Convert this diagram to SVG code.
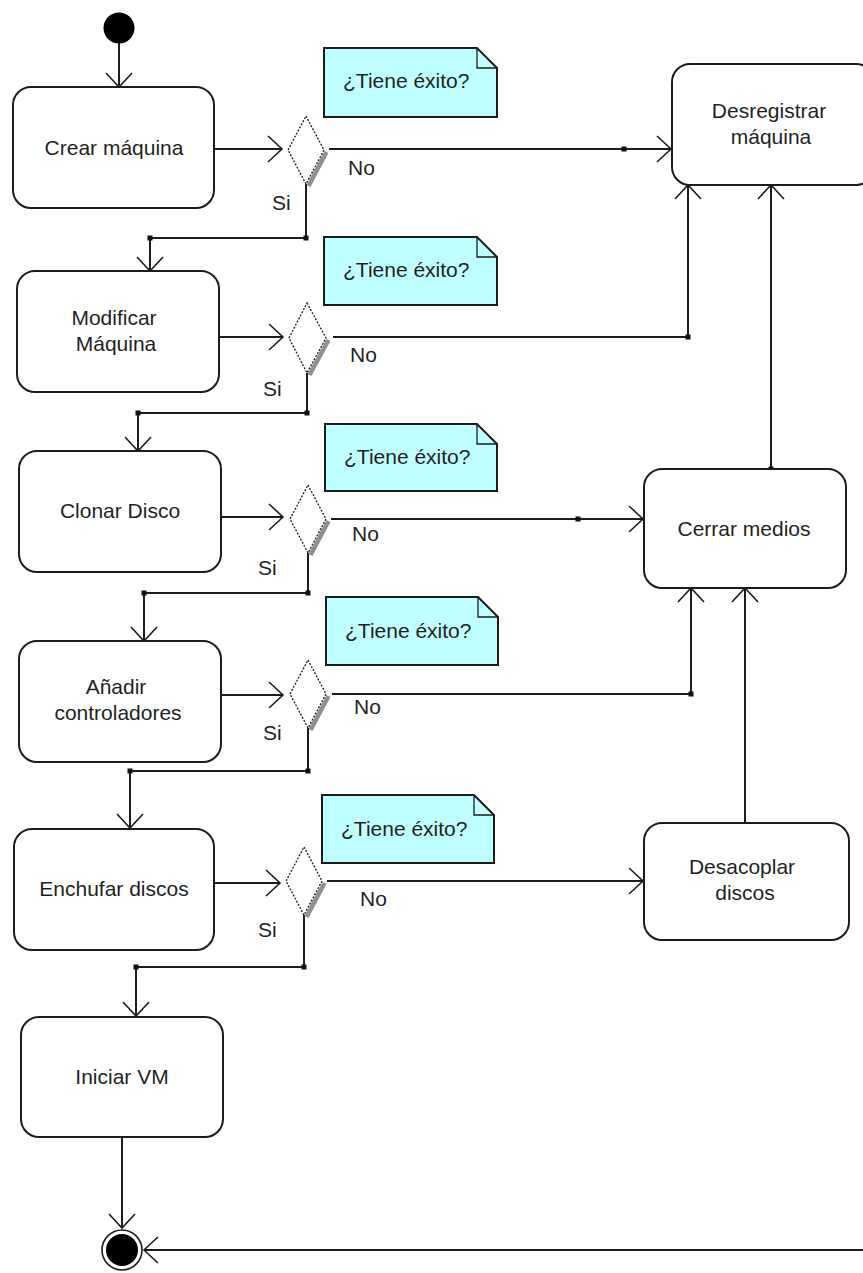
<svg xmlns="http://www.w3.org/2000/svg" width="863" height="1273" viewBox="0 0 863 1273">
  <style>
    .act { fill: #ffffff; stroke: #1c1c1c; stroke-width: 2; }
    .note { fill: #bfffff; stroke: #1c1c1c; stroke-width: 2; }
    .dec { fill: #ffffff; stroke: #1c1c1c; stroke-width: 1.3; stroke-dasharray: 2 1.5; }
    .shadow { stroke: #8f8f8f; stroke-width: 4.5; fill: none; }
    .edge { fill: none; stroke: #1c1c1c; stroke-width: 2; marker-end: url(#open); }
    .dot { fill: #111111; }
    text { font-family: "Liberation Sans", Arial, sans-serif; font-size: 21px; fill: #1f1f1f; }
    .c { text-anchor: middle; }
  </style>
  <defs>
    <marker id="open" markerUnits="userSpaceOnUse" markerWidth="18" markerHeight="30" viewBox="-16 -15 18 30" refX="0" refY="0" orient="auto" overflow="visible">
      <path d="M-14,-13 L0,0 L-14,13" fill="none" stroke="#1c1c1c" stroke-width="1.6"/>
    </marker>
  </defs>

  <rect width="863" height="1273" fill="#ffffff"/>

  <!-- connectors -->
  <g id="connectors">
    <path class="edge" d="M119,43 V87"/>
    <path class="edge" d="M214,149 H282"/>
    <path class="edge" d="M329,149 H671"/>
    <path class="edge" d="M306,184 V238 H150 V271"/>
    <path class="edge" d="M219,337 H283"/>
    <path class="edge" d="M333,337 H688 V185"/>
    <path class="edge" d="M307,373 V413 H138 V451"/>
    <path class="edge" d="M221,517 H283"/>
    <path class="edge" d="M331,519 H643"/>
    <path class="edge" d="M308,553 V593 H144 V641"/>
    <path class="edge" d="M221,695 H283"/>
    <path class="edge" d="M332,694 H691 V588"/>
    <path class="edge" d="M308,728 V771 H130 V828"/>
    <path class="edge" d="M214,883 H280"/>
    <path class="edge" d="M327,881 H643"/>
    <path class="edge" d="M304,915 V967 H136 V1016"/>
    <path class="edge" d="M122,1137 V1228"/>
    <path class="edge" d="M771,469 V185"/>
    <path class="edge" d="M745,823 V588"/>
    <path class="edge" d="M880,1250 H144"/>

    <!-- bend points -->
    <rect class="dot" x="621.5" y="146.5" width="5" height="5"/>
    <rect class="dot" x="303.5" y="235.5" width="5" height="5"/>
    <rect class="dot" x="147.5" y="235.5" width="5" height="5"/>
    <rect class="dot" x="685.5" y="334.5" width="5" height="5"/>
    <rect class="dot" x="304.5" y="410.5" width="5" height="5"/>
    <rect class="dot" x="135.5" y="410.5" width="5" height="5"/>
    <rect class="dot" x="575.5" y="516.5" width="5" height="5"/>
    <rect class="dot" x="305.5" y="590.5" width="5" height="5"/>
    <rect class="dot" x="141.5" y="590.5" width="5" height="5"/>
    <rect class="dot" x="688.5" y="691.5" width="5" height="5"/>
    <rect class="dot" x="305.5" y="768.5" width="5" height="5"/>
    <rect class="dot" x="127.5" y="768.5" width="5" height="5"/>
    <rect class="dot" x="301.5" y="964.5" width="5" height="5"/>
    <rect class="dot" x="133.5" y="964.5" width="5" height="5"/>
    <rect class="dot" x="768.5" y="466.5" width="5" height="5"/>

    <!-- guard labels -->
    <text x="348" y="175">No</text>
    <text x="272" y="210">Si</text>
    <text x="350" y="362">No</text>
    <text x="263" y="396">Si</text>
    <text x="352" y="541">No</text>
    <text x="258" y="575">Si</text>
    <text x="354" y="714">No</text>
    <text x="263" y="740">Si</text>
    <text x="360" y="906">No</text>
    <text x="258" y="937">Si</text>
  </g>

  <!-- start / end -->
  <g id="start">
    <circle cx="119" cy="28" r="15.5" fill="#000000"/>
  </g>
  <g id="end">
    <circle cx="122" cy="1250" r="20" fill="#ffffff" stroke="#1c1c1c" stroke-width="1.6"/>
    <circle cx="122" cy="1250" r="16" fill="#000000"/>
  </g>

  <!-- activities -->
  <g id="crear-maquina">
    <rect class="act" x="13" y="87" width="201" height="121" rx="18"/>
    <text class="c" x="114" y="155">Crear máquina</text>
  </g>
  <g id="modificar-maquina">
    <rect class="act" x="17" y="271" width="202" height="121" rx="18"/>
    <text class="c" x="114" y="325">Modificar</text>
    <text class="c" x="116" y="351">Máquina</text>
  </g>
  <g id="clonar-disco">
    <rect class="act" x="19" y="451" width="202" height="121" rx="18"/>
    <text class="c" x="120" y="518">Clonar Disco</text>
  </g>
  <g id="anadir-controladores">
    <rect class="act" x="19" y="641" width="202" height="121" rx="18"/>
    <text class="c" x="116" y="694">Añadir</text>
    <text class="c" x="118" y="720">controladores</text>
  </g>
  <g id="enchufar-discos">
    <rect class="act" x="14" y="829" width="200" height="121" rx="18"/>
    <text class="c" x="114" y="896">Enchufar discos</text>
  </g>
  <g id="iniciar-vm">
    <rect class="act" x="21" y="1017" width="202" height="120" rx="18"/>
    <text class="c" x="122" y="1084">Iniciar VM</text>
  </g>
  <g id="desregistrar-maquina">
    <rect class="act" x="672" y="64" width="202" height="121" rx="18"/>
    <text class="c" x="769" y="118">Desregistrar</text>
    <text class="c" x="771" y="144">máquina</text>
  </g>
  <g id="cerrar-medios">
    <rect class="act" x="644" y="469" width="202" height="119" rx="18"/>
    <text class="c" x="744" y="536">Cerrar medios</text>
  </g>
  <g id="desacoplar-discos">
    <rect class="act" x="644" y="823" width="205" height="117" rx="18"/>
    <text class="c" x="742" y="874">Desacoplar</text>
    <text class="c" x="745" y="900">discos</text>
  </g>

  <!-- decisions -->
  <g id="decision-1">
    <line class="shadow" x1="326.5" y1="152" x2="308.5" y2="186"/>
    <polygon class="dec" points="306,116 324,150 306,184 288,150"/>
  </g>
  <g id="decision-2">
    <line class="shadow" x1="328.5" y1="340" x2="309.5" y2="375"/>
    <polygon class="dec" points="307,303 326,338 307,373 289,338"/>
  </g>
  <g id="decision-3">
    <line class="shadow" x1="328.5" y1="521" x2="310.5" y2="555"/>
    <polygon class="dec" points="308,485 326,519 308,553 290,519"/>
  </g>
  <g id="decision-4">
    <line class="shadow" x1="328.5" y1="696" x2="310.5" y2="730"/>
    <polygon class="dec" points="308,660 326,694 308,728 290,694"/>
  </g>
  <g id="decision-5">
    <line class="shadow" x1="324.5" y1="883" x2="306.5" y2="917"/>
    <polygon class="dec" points="304,847 322,881 304,915 286,881"/>
  </g>

  <!-- notes -->
  <g id="note-1">
    <path class="note" d="M324,48 H477 L497,68 V117 H324 Z"/>
    <path d="M477,48 V68 H497" fill="none" stroke="#1c1c1c" stroke-width="1.3"/>
    <text x="343" y="88">¿Tiene éxito?</text>
  </g>
  <g id="note-2">
    <path class="note" d="M324,237 H477 L497,257 V305 H324 Z"/>
    <path d="M477,237 V257 H497" fill="none" stroke="#1c1c1c" stroke-width="1.3"/>
    <text x="343" y="277">¿Tiene éxito?</text>
  </g>
  <g id="note-3">
    <path class="note" d="M325,424 H477 L497,444 V491 H325 Z"/>
    <path d="M477,424 V444 H497" fill="none" stroke="#1c1c1c" stroke-width="1.3"/>
    <text x="344" y="464">¿Tiene éxito?</text>
  </g>
  <g id="note-4">
    <path class="note" d="M326,597 H478 L498,617 V665 H326 Z"/>
    <path d="M478,597 V617 H498" fill="none" stroke="#1c1c1c" stroke-width="1.3"/>
    <text x="345" y="638">¿Tiene éxito?</text>
  </g>
  <g id="note-5">
    <path class="note" d="M322,795 H474 L494,815 V863 H322 Z"/>
    <path d="M474,795 V815 H494" fill="none" stroke="#1c1c1c" stroke-width="1.3"/>
    <text x="341" y="836">¿Tiene éxito?</text>
  </g>
</svg>
